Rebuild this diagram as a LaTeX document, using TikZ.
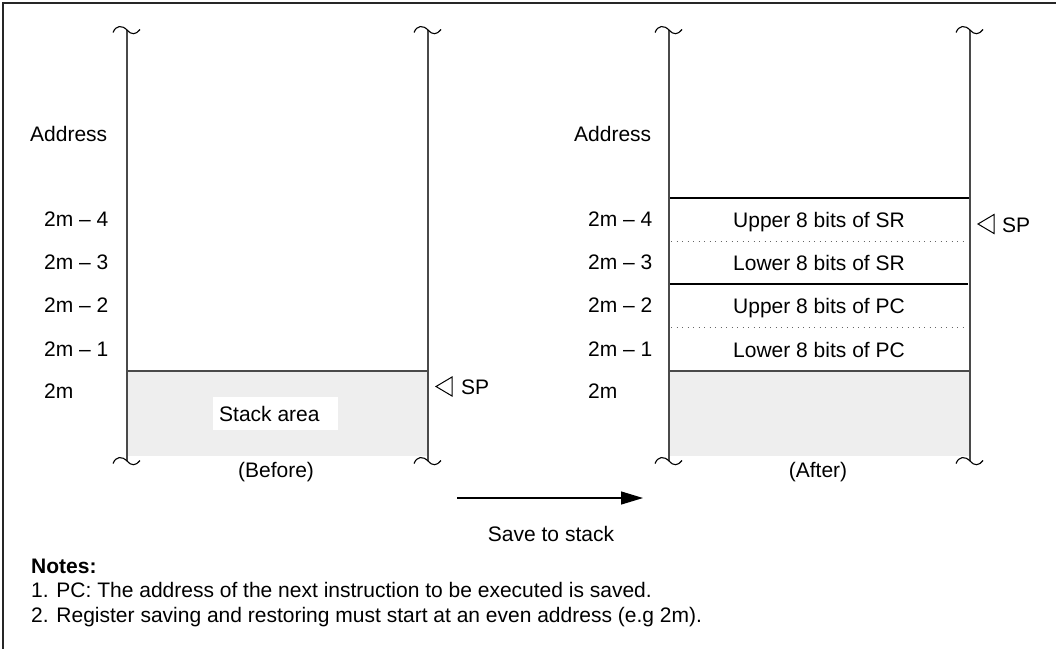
\documentclass[tikz,border=0pt]{standalone}
\usepackage{fontspec}
\setmainfont{Liberation Sans}
\usetikzlibrary{arrows.meta}
\definecolor{stackgray}{HTML}{EEEEEE}
\definecolor{edgegray}{HTML}{4A4A4A}
\tikzset{
  txt/.style={font=\fontsize{21}{25}\selectfont, inner sep=0pt},
  lbl/.style={txt, anchor=base west},
  cell/.style={txt, anchor=base},
  vline/.style={line width=1.3, edgegray},
  rowline/.style={line width=1.2, black},
  dotrow/.style={line width=0.9, black!60, dash pattern=on 1 off 4.5},
  squig/.pic={\draw[line width=1.1, black] (-14,2.5) .. controls (-11,-5) and (-5,-5) .. (0,0) .. controls (4,5) and (9,5) .. (13,-0.5);},
  sptri/.style={line width=1, black, line join=miter}
}
\begin{document}
\begin{tikzpicture}[x=1pt,y=-1pt]
\useasboundingbox (0,0) rectangle (1056,648);
% frame (only top and left edges fall within the picture)
\draw[line width=2, black!85] (3,3) rectangle (1070,660);

% ---------- left (Before) column ----------
\coordinate (LT) at (127,30);
\coordinate (LB) at (127,461);
\coordinate (RT) at (428,30);
\coordinate (RB) at (428,461);
\fill[stackgray] (127,371) rectangle (428,456);
\coordinate (gL) at (127,371);
\coordinate (gR) at (428,371);
\draw[vline] (gL) -- (gR);
\draw[vline] (LT) -- (LB);
\draw[vline] (RT) -- (RB);
\pic at (LT) {squig};
\pic at (LB) {squig};
\pic at (RT) {squig};
\pic at (RB) {squig};
\node[fill=white, minimum width=125, minimum height=33, inner sep=0] (stackbox) at (275.5,413.5) {};
\node[lbl] (stacktxt) at (219,421) {Stack area};

\node[lbl] (addrL) at (30,141) {Address};
\node[lbl] (l4) at (44,226) {2m -- 4};
\node[lbl] (l3) at (44,269) {2m -- 3};
\node[lbl] (l2) at (44,312) {2m -- 2};
\node[lbl] (l1) at (44,356) {2m -- 1};
\node[lbl] (l0) at (44,398) {2m};

\coordinate (spL) at (436,386.5);
\draw[sptri] (spL) -- ++(16,-9.5) -- ++(0,19) -- cycle;
\node[lbl] (spLt) at (461,394) {SP};

\node[cell] (before) at (276,477) {(Before)};

% ---------- right (After) column ----------
\coordinate (LT2) at (669,30);
\coordinate (LB2) at (669,461);
\coordinate (RT2) at (970,30);
\coordinate (RB2) at (970,461);
\fill[stackgray] (669,371) rectangle (970,456);
\coordinate (gL2) at (669,371);
\coordinate (gR2) at (970,371);
\draw[vline] (gL2) -- (gR2);
\coordinate (r1L) at (669,198); \coordinate (r1R) at (970,198);
\coordinate (d1L) at (671,241); \coordinate (d1R) at (967,241);
\coordinate (r2L) at (669,284); \coordinate (r2R) at (968,284);
\coordinate (d2L) at (671,327); \coordinate (d2R) at (967,327);
\draw[rowline] (r1L) -- (r1R);
\draw[rowline] (r2L) -- (r2R);
\draw[dotrow] (d1L) -- (d1R);
\draw[dotrow] (d2L) -- (d2R);
\draw[vline] (LT2) -- (LB2);
\draw[vline] (RT2) -- (RB2);
\pic at (LT2) {squig};
\pic at (LB2) {squig};
\pic at (RT2) {squig};
\pic at (RB2) {squig};

\node[cell] (c1) at (819,227) {Upper 8 bits of SR};
\node[cell] (c2) at (819,270) {Lower 8 bits of SR};
\node[cell] (c3) at (819,313) {Upper 8 bits of PC};
\node[cell] (c4) at (819,357) {Lower 8 bits of PC};

\node[lbl] (addrR) at (574,141) {Address};
\node[lbl] (m4) at (588,226) {2m -- 4};
\node[lbl] (m3) at (588,269) {2m -- 3};
\node[lbl] (m2) at (588,312) {2m -- 2};
\node[lbl] (m1) at (588,356) {2m -- 1};
\node[lbl] (m0) at (588,398) {2m};

\coordinate (spR) at (978,224);
\draw[sptri] (spR) -- ++(16,-9.5) -- ++(0,19) -- cycle;
\node[lbl] (spRt) at (1002,232) {SP};

\node[cell] (after) at (818,477) {(After)};

% ---------- arrow ----------
\coordinate (aS) at (457,498);
\coordinate (aE) at (643,498);
\draw[line width=1.3, -{Triangle[length=22,width=13]}] (aS) -- (aE);
\node[cell] (save) at (551,541) {Save to stack};

% ---------- notes ----------
\node[lbl, font=\fontsize{21}{25}\selectfont\bfseries] (notes) at (31,573) {Notes:};
\node[lbl] (n1) at (31,597) {1. PC: The address of the next instruction to be executed is saved.};
\node[lbl] (n2) at (31,622) {2. Register saving and restoring must start at an even address (e.g 2m).};
\end{tikzpicture}
\end{document}
